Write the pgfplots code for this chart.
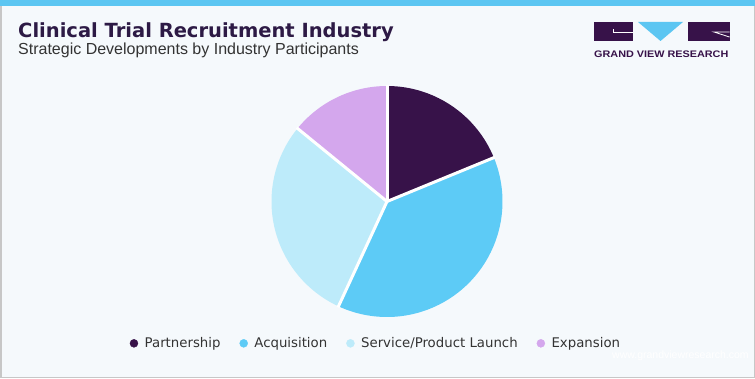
\documentclass[border=0pt]{standalone}
\usepackage{pgfplots}
\pgfplotsset{compat=1.18}
\usepgfplotslibrary{polar}
\usepackage{fontspec}
\setmainfont{Liberation Sans}
\newfontfamily\titlefont{DejaVu Sans}
\newfontfamily\legfont{DejaVu Sans}
\definecolor{bgc}{HTML}{F5F9FC}
\definecolor{topc}{HTML}{5CC6F2}
\definecolor{cA}{HTML}{371249}
\definecolor{cB}{HTML}{5DCBF6}
\definecolor{cC}{HTML}{BDEBFA}
\definecolor{cD}{HTML}{D4A7ED}
\definecolor{titc}{HTML}{2D1A45}
\definecolor{subc}{HTML}{333333}
% shares (percent)
\def\vA{18.8}% Partnership
\def\vB{38.1}% Acquisition
\def\vC{29.0}% Service/Product Launch
\def\vD{14.1}% Expansion
\pgfmathsetmacro\aZ{90}
\pgfmathsetmacro\aA{\aZ-3.6*\vA}
\pgfmathsetmacro\aB{\aA-3.6*\vB}
\pgfmathsetmacro\aC{\aB-3.6*\vC}
\pgfmathsetmacro\aD{\aC-3.6*\vD}
\begin{document}
\begin{tikzpicture}[x=1pt,y=1pt]
\fill[bgc] (0,0) rectangle (755,378);
\fill[topc] (0,372) rectangle (755,378);
\draw[black!22, line width=1.5pt] (0.75,372)--(0.75,0.75)--(754.25,0.75)--(754.25,372);
% titles
\node[anchor=base west, inner sep=0, text=titc, font=\titlefont\bfseries\fontsize{19.5}{22}\selectfont] at (18,340.5) {Clinical Trial Recruitment Industry};
\node[anchor=base west, inner sep=0, text=subc, font=\fontsize{16}{19}\selectfont] at (18,323.7) {Strategic Developments by Industry Participants};
% logo
\fill[cA] (594,337) rectangle (633,356);
\draw[white, line width=0.8pt] (613,348.5)--(613,345.5)--(633,345.5);
\fill[topc] (638,356)--(683,356)--(660.5,337)--cycle;
\fill[cA] (688,337) rectangle (729.5,356);
\draw[white, line width=0.8pt] (729.5,346)--(714,346)--(729.5,341);
\node[anchor=base west, inner sep=0, text=cA, font=\bfseries\fontsize{9.5}{11}\selectfont] at (594,320) {\scalebox{1.14}[1]{GRAND VIEW RESEARCH}};
% watermark
\node[anchor=base west, inner sep=0, text=white, font=\fontsize{10.5}{12}\selectfont] at (612,20) {www.grandviewresearch.com};
\begin{polaraxis}[
  at={(387pt,176.5pt)}, anchor=center,
  scale only axis, width=231pt, height=231pt,
  ymin=0, ymax=1, hide axis, clip=false,
  legend columns=4,
  legend style={draw=none, fill=none, at={(0.452,-0.114)}, anchor=center,
    font=\legfont\fontsize{13.3}{15}\selectfont, text=subc,
    /tikz/every even column/.append style={column sep=17pt}},
  legend cell align=left,
]
\addplot[fill=cA, draw=none, domain=\aA:\aZ, samples=80, forget plot] {1} -- (axis cs:0,0) -- cycle;
\addplot[fill=cB, draw=none, domain=\aB:\aA, samples=120, forget plot] {1} -- (axis cs:0,0) -- cycle;
\addplot[fill=cC, draw=none, domain=\aC:\aB, samples=100, forget plot] {1} -- (axis cs:0,0) -- cycle;
\addplot[fill=cD, draw=none, domain=\aD:\aC, samples=60, forget plot] {1} -- (axis cs:0,0) -- cycle;
\addplot[white, line width=3pt, forget plot] coordinates {(\aZ,0) (\aZ,1.01)};
\addplot[white, line width=3pt, forget plot] coordinates {(\aA,0) (\aA,1.01)};
\addplot[white, line width=3pt, forget plot] coordinates {(\aB,0) (\aB,1.01)};
\addplot[white, line width=3pt, forget plot] coordinates {(\aC,0) (\aC,1.01)};
\addlegendimage{legend image code/.code={\fill[cA] (4pt,0pt) circle (4pt); \path (0pt,0pt) (12.5pt,0pt);}}
\addlegendentry{Partnership}
\addlegendimage{legend image code/.code={\fill[cB] (4pt,0pt) circle (4pt); \path (0pt,0pt) (12.5pt,0pt);}}
\addlegendentry{Acquisition}
\addlegendimage{legend image code/.code={\fill[cC] (4pt,0pt) circle (4pt); \path (0pt,0pt) (12.5pt,0pt);}}
\addlegendentry{Service/Product Launch}
\addlegendimage{legend image code/.code={\fill[cD] (4pt,0pt) circle (4pt); \path (0pt,0pt) (12.5pt,0pt);}}
\addlegendentry{Expansion}
\end{polaraxis}
\end{tikzpicture}
\end{document}
